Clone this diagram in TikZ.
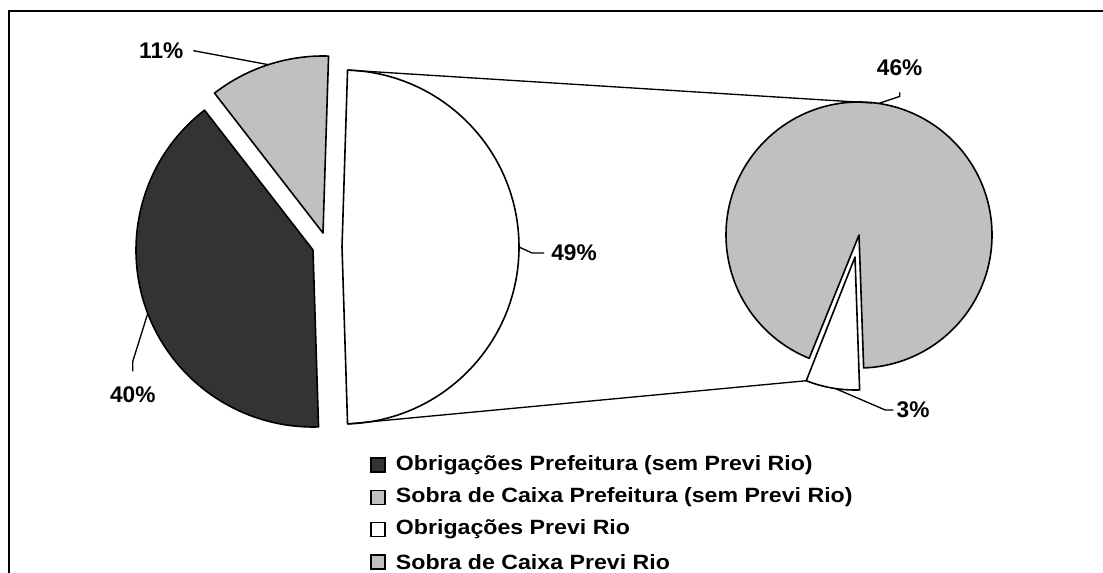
\documentclass[tikz,border=0pt]{standalone}
\usepackage{fontspec}
\setmainfont{Liberation Sans}
\usepackage{graphicx}
\usepackage{tikz}
\usetikzlibrary{positioning}

\definecolor{darkslice}{HTML}{333333}
\definecolor{greyslice}{HTML}{C0C0C0}

\newcommand{\wideleg}[1]{\scalebox{1.12}[1]{#1}}

\begin{document}
\begin{tikzpicture}[x = 0.75pt, y = 0.75pt,
    slice/.style = {draw = black, line width = 1.2pt, line join = round},
    leader/.style = {line width = 1pt},
    pct/.style = {font = \fontsize{17}{20}\selectfont\bfseries, inner sep = 0pt},
    legbox/.style = {draw = black, line width = 1pt, minimum size = 10.5pt, inner sep = 0pt},
    legtext/.style = {font = \fontsize{15.5}{18}\selectfont\bfseries, inner sep = 0pt}]
    \useasboundingbox (0, 0) rectangle (1103, 572);
    \clip (0, 0) rectangle (1103, 572);

    %% frame
    \draw[line width = 1.5pt] (9, -20) -- (9, 561) -- (1130, 561);

    %% main pie
    \coordinate (wv) at (342, 325);
    \coordinate (gv) at (323, 339);
    \coordinate (dv) at (313, 322);
    \draw[slice, fill = white] (wv) -- ([shift = {(-88.2:177)}]wv) arc (-88.2:88.2:177) -- cycle;
    \draw[slice, fill = greyslice] (gv) -- ([shift = {(88.2:177)}]gv) arc (88.2:127.8:177) -- cycle;
    \draw[slice, fill = darkslice] (dv) -- ([shift = {(127.8:177)}]dv) arc (127.8:271.8:177) -- cycle;

    %% second pie
    \coordinate (sv) at (859, 337);
    \coordinate (tv) at (855, 315);
    \draw[slice, fill = greyslice] (sv) -- ([shift = {(-88:133)}]sv) arc (-88:248:133) -- cycle;
    \draw[slice, fill = white] (tv) -- ([shift = {(248.5:133)}]tv) arc (248.5:272:133) -- cycle;

    %% connectors
    \coordinate (wtop) at ([shift = {(88.2:177)}]wv);
    \coordinate (wbot) at ([shift = {(-88.2:177)}]wv);
    \coordinate (stop) at (872, 469);
    \coordinate (tleft) at ([shift = {(248.5:133)}]tv);
    \draw[leader] (wtop) -- (stop);
    \draw[leader] (wbot) -- (tleft);

    %% labels
    \draw[leader] ([shift = {(108:177)}]gv) -- ++(-75, 14) node[pct, left = 7pt] (p11) {11\%};
    \draw[leader] ([shift = {(201:177)}]dv) -- ++(-15, -48) -- ++(0, -10) node[pct, below = 11pt] (p40) {40\%};
    \draw[leader] ([shift = {(0:177)}]wv) -- ++(13, -6) -- ++(12, 0) node[pct, right = 5pt] (p49) {49\%};
    \draw[leader] ([shift = {(81.5:133)}]sv) -- ++(21, 7) -- ++(0, 4) node[pct, above = 12pt] (p46) {46\%};
    \draw[leader] ([shift = {(261.5:133)}]tv) -- ++(50, -21.5) -- ++(8, 0) node[pct, right = 2pt] (p3) {3\%};

    %% legend
    \node[legbox, fill = darkslice] (k1) at (378, 107) {};
    \node[legbox, fill = greyslice, below = 12.75pt of k1] (k2) {};
    \node[legbox, fill = white, below = 12.75pt of k2] (k3) {};
    \node[legbox, fill = greyslice, below = 12.75pt of k3] (k4) {};
    \node[legtext, right = 7.5pt of k1] (t1) {\wideleg{Obrigações Prefeitura (sem Previ Rio)}};
    \node[legtext, right = 7.5pt of k2] (t2) {\wideleg{Sobra de Caixa Prefeitura (sem Previ Rio)}};
    \node[legtext, right = 7.5pt of k3] (t3) {\wideleg{Obrigações Previ Rio}};
    \node[legtext, right = 7.5pt of k4] (t4) {\wideleg{Sobra de Caixa Previ Rio}};
\end{tikzpicture}
\end{document}
